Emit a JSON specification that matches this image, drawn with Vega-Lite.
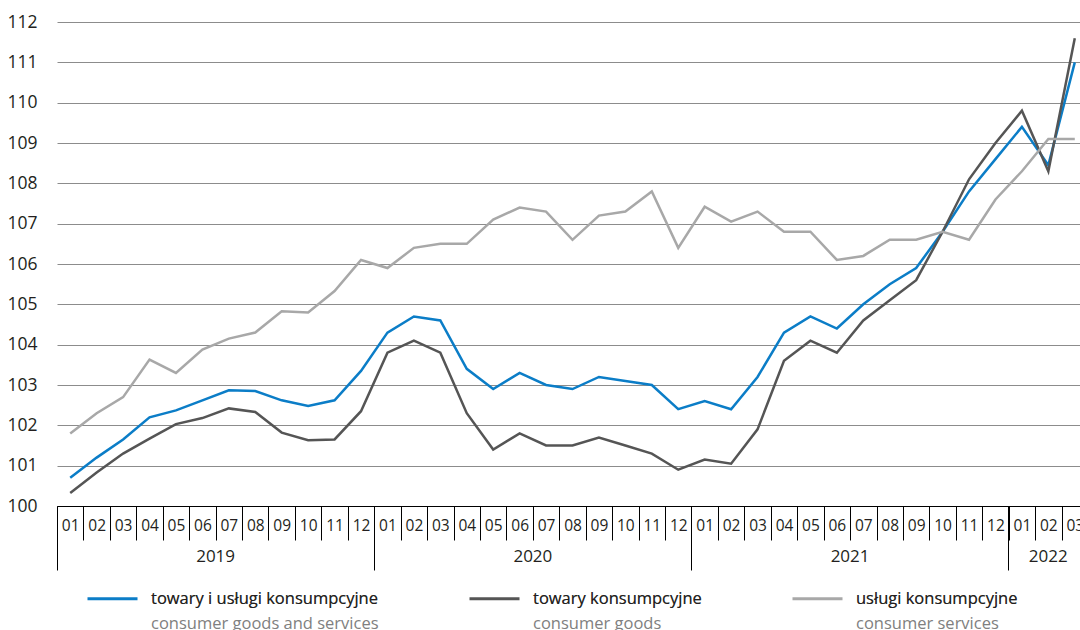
{
  "$schema": "https://vega.github.io/schema/vega-lite/v6.json",
  "width": 1023,
  "height": 484,
  "autosize": {"type": "none"},
  "padding": {"left": 57, "top": 22, "right": 0, "bottom": 124},
  "background": "white",
  "config": {"view": {"stroke": null}, "font": "Open Sans"},
  "datasets": {
    "names": [
      {"series": "towary i usługi konsumpcyjne", "en": "consumer goods and services"},
      {"series": "towary konsumpcyjne", "en": "consumer goods"},
      {"series": "usługi konsumpcyjne", "en": "consumer services"}
    ],
    "cpi": [
      {"m": "2019-01", "series": "towary i usługi konsumpcyjne", "v": 100.7},
      {"m": "2019-02", "series": "towary i usługi konsumpcyjne", "v": 101.2},
      {"m": "2019-03", "series": "towary i usługi konsumpcyjne", "v": 101.65},
      {"m": "2019-04", "series": "towary i usługi konsumpcyjne", "v": 102.2},
      {"m": "2019-05", "series": "towary i usługi konsumpcyjne", "v": 102.37},
      {"m": "2019-06", "series": "towary i usługi konsumpcyjne", "v": 102.62},
      {"m": "2019-07", "series": "towary i usługi konsumpcyjne", "v": 102.87},
      {"m": "2019-08", "series": "towary i usługi konsumpcyjne", "v": 102.85},
      {"m": "2019-09", "series": "towary i usługi konsumpcyjne", "v": 102.62},
      {"m": "2019-10", "series": "towary i usługi konsumpcyjne", "v": 102.48},
      {"m": "2019-11", "series": "towary i usługi konsumpcyjne", "v": 102.62},
      {"m": "2019-12", "series": "towary i usługi konsumpcyjne", "v": 103.35},
      {"m": "2020-01", "series": "towary i usługi konsumpcyjne", "v": 104.3},
      {"m": "2020-02", "series": "towary i usługi konsumpcyjne", "v": 104.7},
      {"m": "2020-03", "series": "towary i usługi konsumpcyjne", "v": 104.6},
      {"m": "2020-04", "series": "towary i usługi konsumpcyjne", "v": 103.4},
      {"m": "2020-05", "series": "towary i usługi konsumpcyjne", "v": 102.9},
      {"m": "2020-06", "series": "towary i usługi konsumpcyjne", "v": 103.3},
      {"m": "2020-07", "series": "towary i usługi konsumpcyjne", "v": 103.0},
      {"m": "2020-08", "series": "towary i usługi konsumpcyjne", "v": 102.9},
      {"m": "2020-09", "series": "towary i usługi konsumpcyjne", "v": 103.2},
      {"m": "2020-10", "series": "towary i usługi konsumpcyjne", "v": 103.1},
      {"m": "2020-11", "series": "towary i usługi konsumpcyjne", "v": 103.0},
      {"m": "2020-12", "series": "towary i usługi konsumpcyjne", "v": 102.4},
      {"m": "2021-01", "series": "towary i usługi konsumpcyjne", "v": 102.6},
      {"m": "2021-02", "series": "towary i usługi konsumpcyjne", "v": 102.4},
      {"m": "2021-03", "series": "towary i usługi konsumpcyjne", "v": 103.2},
      {"m": "2021-04", "series": "towary i usługi konsumpcyjne", "v": 104.3},
      {"m": "2021-05", "series": "towary i usługi konsumpcyjne", "v": 104.7},
      {"m": "2021-06", "series": "towary i usługi konsumpcyjne", "v": 104.4},
      {"m": "2021-07", "series": "towary i usługi konsumpcyjne", "v": 105.0},
      {"m": "2021-08", "series": "towary i usługi konsumpcyjne", "v": 105.5},
      {"m": "2021-09", "series": "towary i usługi konsumpcyjne", "v": 105.9},
      {"m": "2021-10", "series": "towary i usługi konsumpcyjne", "v": 106.8},
      {"m": "2021-11", "series": "towary i usługi konsumpcyjne", "v": 107.8},
      {"m": "2021-12", "series": "towary i usługi konsumpcyjne", "v": 108.6},
      {"m": "2022-01", "series": "towary i usługi konsumpcyjne", "v": 109.4},
      {"m": "2022-02", "series": "towary i usługi konsumpcyjne", "v": 108.45},
      {"m": "2022-03", "series": "towary i usługi konsumpcyjne", "v": 111.0},
      {"m": "2019-01", "series": "towary konsumpcyjne", "v": 100.32},
      {"m": "2019-02", "series": "towary konsumpcyjne", "v": 100.83},
      {"m": "2019-03", "series": "towary konsumpcyjne", "v": 101.3},
      {"m": "2019-04", "series": "towary konsumpcyjne", "v": 101.67},
      {"m": "2019-05", "series": "towary konsumpcyjne", "v": 102.03},
      {"m": "2019-06", "series": "towary konsumpcyjne", "v": 102.18},
      {"m": "2019-07", "series": "towary konsumpcyjne", "v": 102.42},
      {"m": "2019-08", "series": "towary konsumpcyjne", "v": 102.33},
      {"m": "2019-09", "series": "towary konsumpcyjne", "v": 101.82},
      {"m": "2019-10", "series": "towary konsumpcyjne", "v": 101.63},
      {"m": "2019-11", "series": "towary konsumpcyjne", "v": 101.65},
      {"m": "2019-12", "series": "towary konsumpcyjne", "v": 102.35},
      {"m": "2020-01", "series": "towary konsumpcyjne", "v": 103.8},
      {"m": "2020-02", "series": "towary konsumpcyjne", "v": 104.1},
      {"m": "2020-03", "series": "towary konsumpcyjne", "v": 103.8},
      {"m": "2020-04", "series": "towary konsumpcyjne", "v": 102.3},
      {"m": "2020-05", "series": "towary konsumpcyjne", "v": 101.4},
      {"m": "2020-06", "series": "towary konsumpcyjne", "v": 101.8},
      {"m": "2020-07", "series": "towary konsumpcyjne", "v": 101.5},
      {"m": "2020-08", "series": "towary konsumpcyjne", "v": 101.5},
      {"m": "2020-09", "series": "towary konsumpcyjne", "v": 101.7},
      {"m": "2020-10", "series": "towary konsumpcyjne", "v": 101.5},
      {"m": "2020-11", "series": "towary konsumpcyjne", "v": 101.3},
      {"m": "2020-12", "series": "towary konsumpcyjne", "v": 100.9},
      {"m": "2021-01", "series": "towary konsumpcyjne", "v": 101.15},
      {"m": "2021-02", "series": "towary konsumpcyjne", "v": 101.05},
      {"m": "2021-03", "series": "towary konsumpcyjne", "v": 101.9},
      {"m": "2021-04", "series": "towary konsumpcyjne", "v": 103.6},
      {"m": "2021-05", "series": "towary konsumpcyjne", "v": 104.1},
      {"m": "2021-06", "series": "towary konsumpcyjne", "v": 103.8},
      {"m": "2021-07", "series": "towary konsumpcyjne", "v": 104.6},
      {"m": "2021-08", "series": "towary konsumpcyjne", "v": 105.1},
      {"m": "2021-09", "series": "towary konsumpcyjne", "v": 105.6},
      {"m": "2021-10", "series": "towary konsumpcyjne", "v": 106.8},
      {"m": "2021-11", "series": "towary konsumpcyjne", "v": 108.1},
      {"m": "2021-12", "series": "towary konsumpcyjne", "v": 109.0},
      {"m": "2022-01", "series": "towary konsumpcyjne", "v": 109.8},
      {"m": "2022-02", "series": "towary konsumpcyjne", "v": 108.3},
      {"m": "2022-03", "series": "towary konsumpcyjne", "v": 111.6},
      {"m": "2019-01", "series": "usługi konsumpcyjne", "v": 101.8},
      {"m": "2019-02", "series": "usługi konsumpcyjne", "v": 102.3},
      {"m": "2019-03", "series": "usługi konsumpcyjne", "v": 102.7},
      {"m": "2019-04", "series": "usługi konsumpcyjne", "v": 103.63},
      {"m": "2019-05", "series": "usługi konsumpcyjne", "v": 103.3},
      {"m": "2019-06", "series": "usługi konsumpcyjne", "v": 103.88},
      {"m": "2019-07", "series": "usługi konsumpcyjne", "v": 104.15},
      {"m": "2019-08", "series": "usługi konsumpcyjne", "v": 104.3},
      {"m": "2019-09", "series": "usługi konsumpcyjne", "v": 104.83},
      {"m": "2019-10", "series": "usługi konsumpcyjne", "v": 104.8},
      {"m": "2019-11", "series": "usługi konsumpcyjne", "v": 105.33},
      {"m": "2019-12", "series": "usługi konsumpcyjne", "v": 106.1},
      {"m": "2020-01", "series": "usługi konsumpcyjne", "v": 105.9},
      {"m": "2020-02", "series": "usługi konsumpcyjne", "v": 106.4},
      {"m": "2020-03", "series": "usługi konsumpcyjne", "v": 106.5},
      {"m": "2020-04", "series": "usługi konsumpcyjne", "v": 106.5},
      {"m": "2020-05", "series": "usługi konsumpcyjne", "v": 107.1},
      {"m": "2020-06", "series": "usługi konsumpcyjne", "v": 107.4},
      {"m": "2020-07", "series": "usługi konsumpcyjne", "v": 107.3},
      {"m": "2020-08", "series": "usługi konsumpcyjne", "v": 106.6},
      {"m": "2020-09", "series": "usługi konsumpcyjne", "v": 107.2},
      {"m": "2020-10", "series": "usługi konsumpcyjne", "v": 107.3},
      {"m": "2020-11", "series": "usługi konsumpcyjne", "v": 107.8},
      {"m": "2020-12", "series": "usługi konsumpcyjne", "v": 106.4},
      {"m": "2021-01", "series": "usługi konsumpcyjne", "v": 107.42},
      {"m": "2021-02", "series": "usługi konsumpcyjne", "v": 107.05},
      {"m": "2021-03", "series": "usługi konsumpcyjne", "v": 107.3},
      {"m": "2021-04", "series": "usługi konsumpcyjne", "v": 106.8},
      {"m": "2021-05", "series": "usługi konsumpcyjne", "v": 106.8},
      {"m": "2021-06", "series": "usługi konsumpcyjne", "v": 106.1},
      {"m": "2021-07", "series": "usługi konsumpcyjne", "v": 106.2},
      {"m": "2021-08", "series": "usługi konsumpcyjne", "v": 106.6},
      {"m": "2021-09", "series": "usługi konsumpcyjne", "v": 106.6},
      {"m": "2021-10", "series": "usługi konsumpcyjne", "v": 106.8},
      {"m": "2021-11", "series": "usługi konsumpcyjne", "v": 106.6},
      {"m": "2021-12", "series": "usługi konsumpcyjne", "v": 107.6},
      {"m": "2022-01", "series": "usługi konsumpcyjne", "v": 108.3},
      {"m": "2022-02", "series": "usługi konsumpcyjne", "v": 109.1},
      {"m": "2022-03", "series": "usługi konsumpcyjne", "v": 109.1}
    ]
  },
  "data": {"name": "cpi"},
  "transform": [
    {"lookup": "series", "from": {"data": {"name": "names"}, "key": "series", "fields": ["en"]}}
  ],
  "layer": [
    {
      "mark": {"type": "line", "strokeWidth": 2.5},
      "encoding": {
        "x": {
          "field": "m",
          "type": "ordinal",
          "scale": {"type": "band", "range": [0, 1031], "paddingInner": 0, "paddingOuter": 0},
          "axis": {
            "orient": "bottom",
            "title": null,
            "labelExpr": "isString(datum.value) ? substring(datum.value, 5, 7) : ''",
            "tickBand": "extent",
            "tickSize": 34,
            "tickColor": "#000000",
            "tickWidth": 1,
            "domainColor": "#000000",
            "domainWidth": 1,
            "labelFont": "Open Sans",
            "labelFontSize": 15.5,
            "labelColor": "#231f20",
            "labelPadding": -22,
            "labelAngle": 0,
            "labelAlign": "center",
            "labelBaseline": "top",
            "labelOverlap": false,
            "labelFlush": false,
            "grid": false,
            "zindex": 1
          }
        },
        "y": {
          "field": "v",
          "type": "quantitative",
          "scale": {"domain": [100, 112], "nice": false, "zero": false},
          "axis": {
            "title": null,
            "values": [100, 101, 102, 103, 104, 105, 106, 107, 108, 109, 110, 111, 112],
            "ticks": false,
            "domain": false,
            "grid": true,
            "gridColor": "#8c8c8c",
            "gridWidth": 1,
            "labelFont": "Open Sans",
            "labelFontSize": 17.5,
            "labelColor": "#231f20",
            "labelPadding": 20
          }
        },
        "color": {
          "field": "series",
          "type": "nominal",
          "scale": {
            "domain": ["towary i usługi konsumpcyjne", "towary konsumpcyjne", "usługi konsumpcyjne"],
            "range": ["#0b7dc7", "#555555", "#a8a8a8"]
          },
          "legend": {
            "orient": "none",
            "legendX": 29,
            "legendY": 550,
            "direction": "horizontal",
            "title": null,
            "padding": 0,
            "symbolType": "stroke",
            "symbolSize": 2500,
            "symbolStrokeWidth": 3,
            "labelOffset": 12,
            "columnPadding": 84,
            "labelFont": "Open Sans",
            "labelFontSize": 16.5,
            "labelColor": "#808080",
            "labelBaseline": "middle",
            "labelLimit": 400,
            "labelExpr": "[datum.label, datum.label == 'towary i usługi konsumpcyjne' ? 'consumer goods and services' : (datum.label == 'towary konsumpcyjne' ? 'consumer goods' : 'consumer services')]",
            "encoding": {"labels": {"lineHeight": {"value": 25.5}}}
          }
        },
        "opacity": {
          "field": "en",
          "type": "nominal",
          "scale": {
            "domain": ["consumer goods and services", "consumer goods", "consumer services"],
            "range": [1, 1, 1]
          },
          "legend": {
            "orient": "none",
            "legendX": 29,
            "legendY": 550,
            "direction": "horizontal",
            "title": null,
            "padding": 0,
            "symbolType": "stroke",
            "symbolSize": 2500,
            "symbolStrokeWidth": 3,
            "symbolStrokeColor": "transparent",
            "symbolFillColor": "transparent",
            "labelOffset": 12,
            "columnPadding": 84,
            "labelFont": "Open Sans",
            "labelFontSize": 16.5,
            "labelColor": "#231f20",
            "labelBaseline": "middle",
            "labelLimit": 400,
            "labelExpr": "[datum.label == 'consumer goods and services' ? 'towary i usługi konsumpcyjne' : (datum.label == 'consumer goods' ? 'towary konsumpcyjne' : 'usługi konsumpcyjne'), datum.label]",
            "encoding": {"labels": {"lineHeight": {"value": 300}}}
          }
        }
      }
    },
    {
      "mark": {"type": "rule", "opacity": 0},
      "encoding": {
        "x": {
          "field": "m",
          "type": "ordinal",
          "scale": {"type": "band", "range": [0, 1031], "paddingInner": 0, "paddingOuter": 0},
          "axis": {
            "orient": "bottom",
            "title": null,
            "values": ["2019-01", "2020-01", "2021-01", "2022-01"],
            "bandPosition": 0,
            "labelExpr": "substring(datum.value, 0, 4)",
            "tickSize": 64,
            "tickColor": "#000000",
            "tickWidth": 1,
            "domain": false,
            "grid": false,
            "labelFont": "Open Sans",
            "labelFontSize": 17,
            "labelColor": "#231f20",
            "labelPadding": -22,
            "labelAngle": 0,
            "labelAlign": "center",
            "labelBaseline": "top",
            "labelOverlap": false,
            "labelFlush": false,
            "labelOffset": {"condition": {"test": "datum.value == '2022-01'", "value": 26.4}, "value": 145.4}
          }
        }
      }
    }
  ],
  "resolve": {"scale": {"x": "independent"}, "axis": {"x": "independent"}}
}
